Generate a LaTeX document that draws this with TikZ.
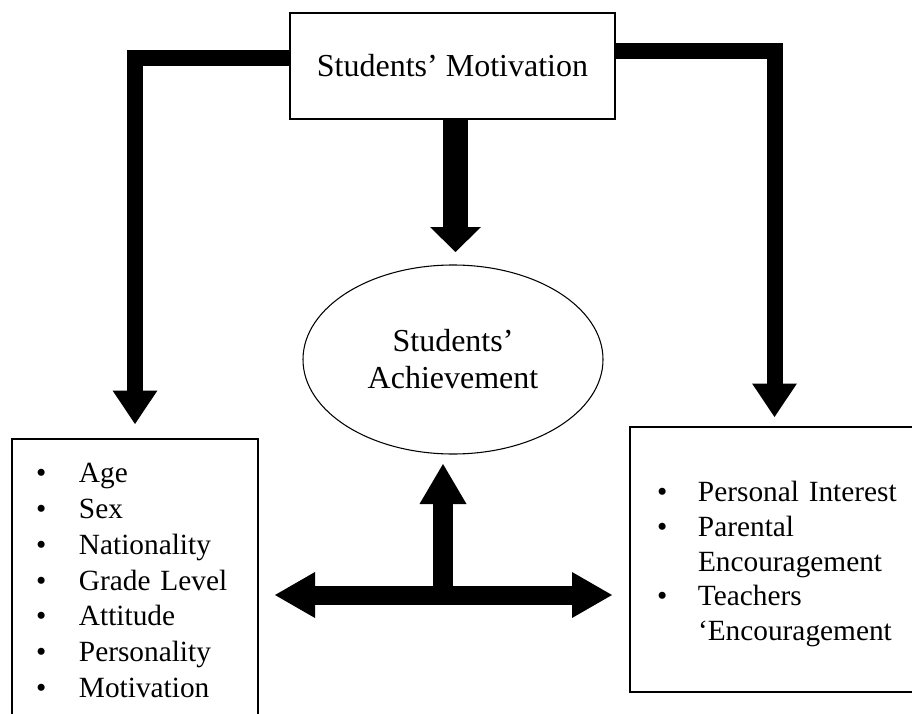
\documentclass[tikz,border=0pt]{standalone}
\usepackage{fontspec}
\setmainfont{Liberation Serif}
\usetikzlibrary{arrows.meta,shapes.geometric,positioning,calc}

\begin{document}
\begin{tikzpicture}[x=0.75pt, y=-0.75pt, BoxStyle/.style={draw, line width=0.8pt, rectangle, outer sep=0pt, font=\fontsize{24}{27}\selectfont}, OvalStyle/.style={draw, line width=0.8pt, ellipse, minimum width=225pt, minimum height=141.75pt, inner sep=0pt, outer sep=0pt, align=center, font=\fontsize{24}{27.75}\selectfont}, ListStyle/.style={BoxStyle, anchor=north west, align=left}, BigArrow/.style={line width=12pt, -{Triangle[width=33.5pt, length=25pt, line width=0pt]}}]
	\useasboundingbox (0,0) rectangle (912,713);
	\clip (0,0) rectangle (912,713);
	\node[BoxStyle, minimum width=243.75pt, minimum height=79.5pt] (mot) at (452.5,66) {Students’ Motivation};
	\node[OvalStyle] (ach) at (453,359.5) {Students’\\Achievement};
	\node[ListStyle, minimum width=184.5pt, minimum height=210.75pt, inner xsep=18pt, text width=148.5pt, font=\fontsize{22}{26.9}\selectfont] (fac) at (12,439) {%
		\begin{tabular}{@{}p{32.25pt}@{}l@{}}
			\noalign{\vskip 5pt}
			• & Age\\
			• & Sex\\
			• & Nationality\\
			• & Grade Level\\
			• & Attitude\\
			• & Personality\\
			• & Motivation
		\end{tabular}};
	\node[ListStyle, minimum width=216.75pt, minimum height=198.75pt, inner xsep=20.25pt, text width=176.25pt, font=\fontsize{22}{26}\selectfont] (inf) at (630,427) {%
		\begin{tabular}{@{}p{30.75pt}@{}l@{}}
			\noalign{\vskip 7pt}
			• & Personal Interest\\
			• & Parental\\
			& Encouragement\\
			• & Teachers\\
			& ‘Encouragement
		\end{tabular}};
	\coordinate (hub) at (443,595);
	\draw[BigArrow, shorten >=11.25pt] ([yshift=6pt]mot.west) -| (fac.north);
	\draw[BigArrow, shorten >=7.5pt] ([yshift=11.6pt]mot.east) -| (inf.north);
	\draw[line width=18.75pt, -{Triangle[width=38.25pt, length=18.75pt, line width=0pt]}, shorten >=9.75pt] ([xshift=2.25pt]mot.south) -- ([xshift=2.25pt]mot.south |- ach.north);
	\draw[line width=14.25pt, {Triangle[width=34.5pt, length=30pt, line width=0pt]}-{Triangle[width=34.5pt, length=30pt, line width=0pt]}, shorten <=12.75pt, shorten >=13.5pt] (fac.east |- hub) -- (inf.west |- hub);
	\draw[line width=15pt, -{Triangle[width=35.25pt, length=30pt, line width=0pt]}, shorten >=7.5pt] (hub) -- (hub |- ach.south);
\end{tikzpicture}
\end{document}
